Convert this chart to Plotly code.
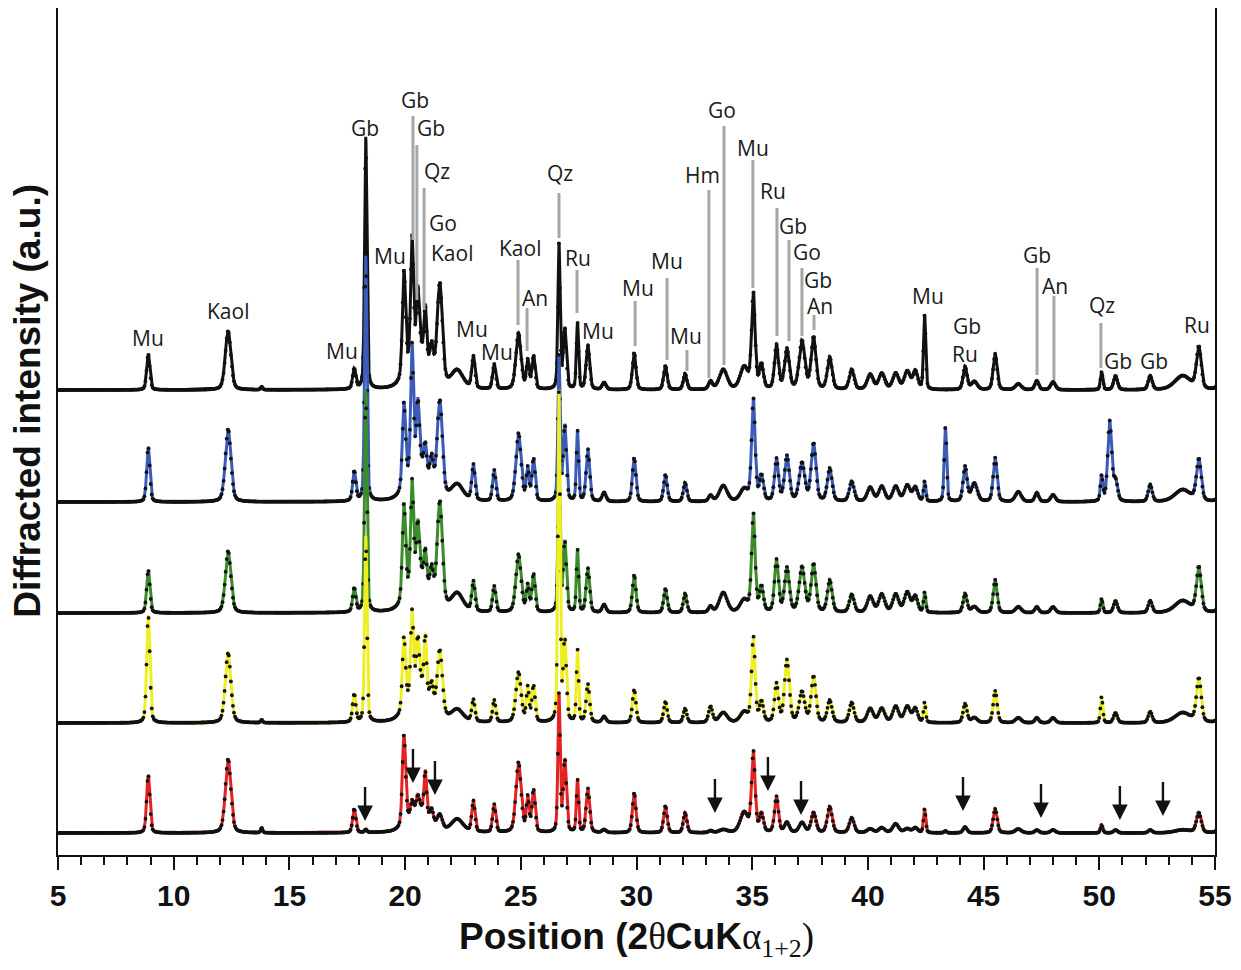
import numpy as np
import plotly.graph_objects as go

# ---------------- data ----------------
TT_START, TT_END = 5.0, 55.2
MARK_STEP, LINE_STEP = 0.045, 0.01

PEAK_POS = [8.9, 12.35, 13.8, 17.8, 18.3, 19.95, 20.3, 20.55, 20.6, 20.87, 21.15, 21.5,
            22.25, 22.95, 23.85, 24.9, 25.3, 25.55, 26.65, 26.9, 27.45, 27.9, 28.6,
            29.9, 31.25, 32.1, 33.2, 33.75, 34.65, 35.05, 35.4, 36.05, 36.5, 37.15,
            37.65, 38.35, 39.3, 40.1, 40.6, 41.2, 41.7, 42.05, 42.45, 43.35, 44.2,
            44.6, 45.5, 46.5, 47.3, 48.0, 50.1, 50.45, 50.7, 52.2, 53.6, 54.3, 55.3]
PEAK_HWHM = [0.08, 0.14, 0.05, 0.08, 0.06, 0.08, 0.07, 0.07, 0.5, 0.06, 0.08, 0.13,
             0.3, 0.08, 0.08, 0.13, 0.07, 0.08, 0.055, 0.08, 0.055, 0.09, 0.1,
             0.09, 0.09, 0.09, 0.1, 0.2, 0.2, 0.09, 0.1, 0.1, 0.12, 0.14,
             0.12, 0.12, 0.12, 0.15, 0.15, 0.15, 0.15, 0.12, 0.055, 0.06, 0.1,
             0.15, 0.1, 0.15, 0.1, 0.12, 0.06, 0.1, 0.1, 0.1, 0.4, 0.12, 0.15]

# peak heights of each sample (top to bottom)
H_BLACK = [36, 59, 3, 20, 252, 105, 120, 60, 40, 50, 25, 100,
           18, 32, 25, 56, 28, 33, 145, 60, 66, 44, 7,
           37, 24, 16, 8, 20, 22, 95, 24, 44, 40, 48,
           52, 32, 20, 15, 16, 16, 18, 18, 75, 0, 23,
           8, 36, 6, 9, 8, 18, 0, 14, 14, 14, 42, 16]
H_BLUE = [55, 73, 0, 30, 245, 85, 125, 60, 40, 25, 25, 95,
          16, 36, 31, 68, 32, 42, 145, 75, 70, 52, 9,
          44, 27, 19, 6, 16, 12, 102, 25, 42, 45, 38,
          58, 33, 20, 14, 15, 15, 16, 14, 20, 75, 35,
          18, 44, 10, 9, 7, 25, 80, 20, 17, 12, 42, 14]
H_GREEN = [43, 62, 0, 24, 222, 95, 100, 50, 40, 30, 25, 105,
           18, 30, 26, 58, 26, 38, 150, 70, 62, 44, 8,
           38, 24, 19, 6, 20, 12, 98, 25, 52, 44, 45,
           48, 32, 18, 16, 18, 18, 20, 16, 20, 0, 19,
           6, 33, 6, 6, 6, 14, 0, 12, 12, 12, 45, 15]
H_YELLOW = [108, 70, 3, 28, 186, 72, 80, 45, 40, 55, 20, 66,
            12, 22, 22, 50, 34, 36, 330, 80, 72, 38, 6,
            33, 21, 14, 16, 10, 10, 85, 20, 38, 62, 30,
            46, 22, 20, 14, 14, 16, 16, 14, 20, 0, 19,
            5, 32, 5, 5, 5, 26, 0, 10, 11, 10, 44, 14]
H_RED = [58, 74, 5, 24, 3, 90, 12, 12, 25, 42, 12, 14,
         13, 31, 28, 70, 34, 42, 138, 72, 52, 44, 3,
         40, 27, 20, 2, 3, 20, 80, 18, 36, 10, 10,
         20, 26, 15, 4, 5, 9, 4, 5, 24, 2, 6,
         0, 24, 4, 3, 3, 8, 0, 3, 3, 3, 20, 12]

SAMPLE_HEIGHTS = [H_BLACK, H_BLUE, H_GREEN, H_YELLOW, H_RED]
SAMPLE_OFFSETS = [465, 353, 242, 132, 22]
SAMPLE_COLORS = ["#111111", "#3b5bb8", "#3c8c2c", "#eeee22", "#e52222"]

# phase labels on the top pattern
LABEL_TEXT = ["Mu", "Kaol", "Mu", "Gb", "Mu", "Gb", "Gb", "Qz", "Go", "Kaol", "Mu", "Mu",
              "Kaol", "An", "Qz", "Ru", "Mu", "Mu", "Mu", "Mu", "Hm", "Go", "Mu", "Ru",
              "Gb", "Go", "Gb", "An", "Mu", "Gb", "Ru", "Gb", "An", "Qz", "Gb", "Gb", "Ru"]
LABEL_X = [8.9, 12.35, 17.27, 18.27, 19.35, 20.43, 21.12, 21.38, 21.64, 22.03, 22.89, 23.97,
           24.97, 25.61, 26.69, 27.47, 28.34, 30.07, 31.32, 32.14, 32.87, 33.69, 35.03, 35.9,
           36.76, 37.37, 37.84, 37.93, 42.6, 44.28, 44.2, 47.31, 48.09, 50.12, 50.81, 52.36, 54.22]
LABEL_Y = [517, 544, 504, 727, 599, 755, 727, 684, 632, 602, 526, 503,
           607, 557, 682, 597, 524, 567, 594, 519, 680, 745, 707, 664,
           629, 603, 575, 549, 559, 529, 501, 600, 569, 550, 494, 494, 530]

# grey marker lines under some labels
TICKLINE_X = [20.34, 20.51, 20.82, 24.88, 25.27, 26.65, 27.43, 29.94, 31.32, 32.18,
              33.13, 33.78, 35.03, 36.07, 36.59, 37.15, 37.67, 47.31, 48.04, 50.07]
TICKLINE_TOP = [739, 710, 667, 595, 547, 662, 585, 554, 577, 505,
                665, 729, 695, 647, 615, 587, 540, 587, 559, 532]
TICKLINE_BOTTOM = [615, 555, 545, 530, 504, 617, 542, 509, 495, 484,
                   477, 490, 567, 519, 514, 519, 525, 480, 475, 487]

# arrows on the bottom pattern
ARROW_X = [18.27, 20.34, 21.29, 33.39, 35.68, 37.11, 44.11, 47.48, 50.89, 52.75]
ARROW_TIP = [34, 72, 60, 42, 64, 40, 44, 37, 35, 39]

X_TICKS = [5, 10, 15, 20, 25, 30, 35, 40, 45, 50, 55]
Y_TITLE = "Diffracted intensity (a.u.)"


# ---------------- build patterns ----------------
def pattern(tt, heights, off):
    pos = np.array(PEAK_POS)[:, None]
    hw = np.array(PEAK_HWHM)[:, None]
    u = (tt[None, :] - pos) / hw
    eta = 0.35
    shape = eta / (1 + u ** 2) + (1 - eta) * np.exp(-np.log(2) * u ** 2)
    return off + (np.array(heights)[:, None] * shape).sum(axis=0)


tt_line = np.arange(TT_START, TT_END + 1e-9, LINE_STEP)
tt_mark = np.arange(TT_START, TT_END + 1e-9, MARK_STEP)

fig = go.Figure()
for heights, off, col in zip(SAMPLE_HEIGHTS, SAMPLE_OFFSETS, SAMPLE_COLORS):
    fig.add_trace(go.Scatter(x=tt_line, y=pattern(tt_line, heights, off), mode="lines",
                             line=dict(color=col, width=3), hoverinfo="skip"))
    fig.add_trace(go.Scatter(x=tt_mark, y=pattern(tt_mark, heights, off), mode="markers",
                             marker=dict(color="#111111", size=3.8), hoverinfo="skip"))

# grey lines
lx, ly = [], []
for x, t, b in zip(TICKLINE_X, TICKLINE_TOP, TICKLINE_BOTTOM):
    lx += [x, x, None]
    ly += [b, t, None]
fig.add_trace(go.Scatter(x=lx, y=ly, mode="lines",
                         line=dict(color="#a6a6a6", width=3), hoverinfo="skip"))

annotations = []
for t, x, y in zip(LABEL_TEXT, LABEL_X, LABEL_Y):
    annotations.append(dict(x=x, y=y, text=t, showarrow=False,
                            font=dict(family="Open Sans, Noto Sans, sans-serif",
                                      size=21, color="#1a1a1a"),
                            xanchor="center", yanchor="middle"))
for x, y in zip(ARROW_X, ARROW_TIP):
    annotations.append(dict(x=x, y=y, text=" ", showarrow=True, ax=0, ay=-37,
                            arrowhead=2, arrowsize=1.3, arrowwidth=2.4,
                            arrowcolor="#111111", standoff=0,
                            font=dict(size=2)))

annotations.append(dict(
    xref="paper", yref="paper", x=0.5, y=-0.100, xanchor="center", yanchor="middle",
    showarrow=False,
    text="<b>Position (2</b><span style='font-family:Liberation Serif'>θ</span>"
         "<b>CuK</b><span style='font-family:Liberation Serif'>α<sub>1+2</sub>)</span>",
    font=dict(family="Liberation Sans, Arial, sans-serif", size=37, color="#111111")))
annotations.append(dict(
    xref="paper", yref="paper", x=-0.027, y=0.536, xanchor="center", yanchor="middle",
    showarrow=False, textangle=-90, text="<b>" + Y_TITLE + "</b>",
    font=dict(family="Liberation Sans, Arial, sans-serif", size=37, color="#111111")))

fig.update_layout(
    width=1233, height=962,
    margin=dict(l=50, r=26, t=0, b=115),
    paper_bgcolor="white", plot_bgcolor="white",
    showlegend=False,
    annotations=annotations,
    xaxis=dict(range=[5, 55], tickvals=X_TICKS, ticktext=[f"<b>{v}</b>" for v in X_TICKS],
               ticks="outside", ticklen=13, tickwidth=2, tickcolor="#111111",
               minor=dict(dtick=1, ticks="outside", ticklen=8, tickwidth=2,
                          tickcolor="#111111"),
               showline=True, linecolor="#111111", linewidth=2, showgrid=False,
               zeroline=False, ticklabelstandoff=0,
               tickfont=dict(family="Liberation Sans, Arial, sans-serif", size=30,
                             color="#111111")),
    yaxis=dict(range=[0, 847], showticklabels=False, ticks="", showgrid=False,
               zeroline=False, showline=True, linecolor="#111111", linewidth=2,
               mirror=True),
)

fig.write_html("out.html")
